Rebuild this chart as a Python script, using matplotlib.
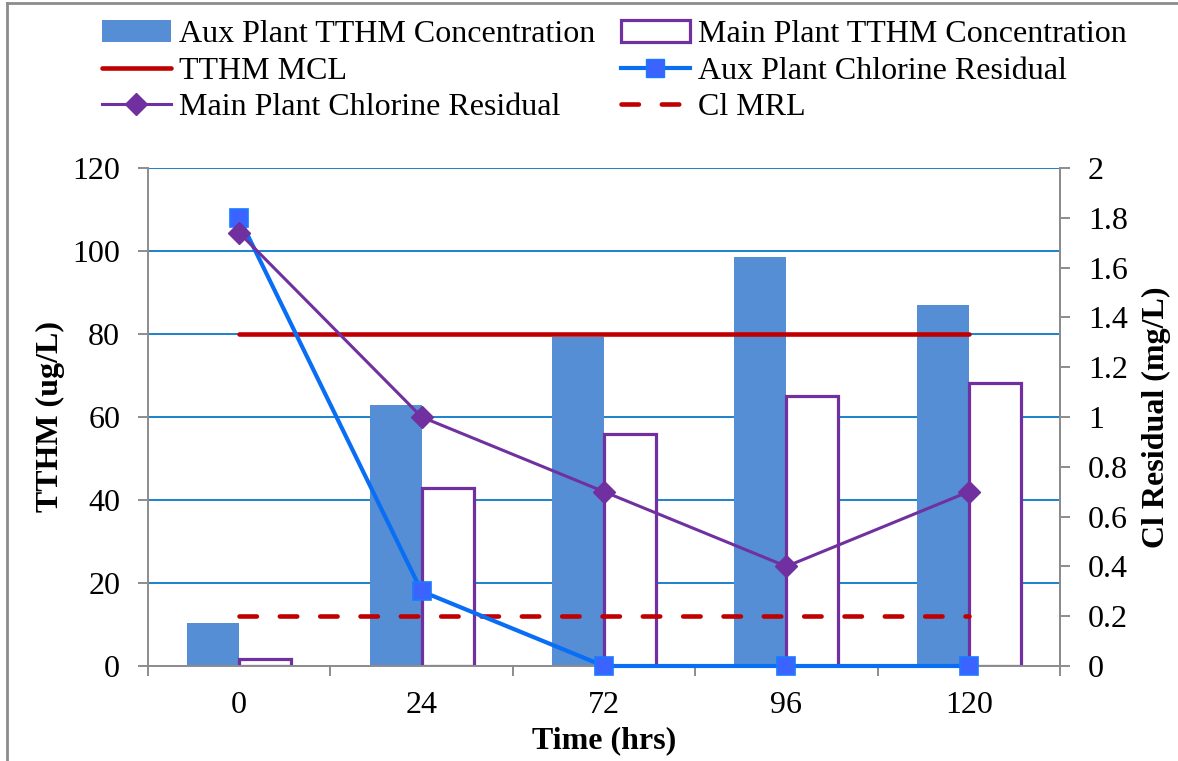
import matplotlib
matplotlib.use("Agg")
import matplotlib.pyplot as plt
import numpy as np
from matplotlib.lines import Line2D
from matplotlib.patches import Patch

plt.rcParams['font.family'] = ['Liberation Serif', 'DejaVu Serif']

categories = ["0", "24", "72", "96", "120"]
aux_tthm = [10.3, 63, 79.3, 98.6, 87]
main_tthm = [1.7, 43, 56, 65, 68.2]
aux_cl = [1.80, 0.30, 0.0, 0.0, 0.0]
main_cl = [1.74, 1.00, 0.70, 0.40, 0.70]
tthm_mcl = 80
cl_mrl = 0.2

BLUE_BAR = '#558ED5'
PURPLE = '#7030A0'
RED = '#C00000'
LINE_BLUE = '#0A6EF5'
GRID = '#0A78C8'
AXGREY = '#8C8C8C'
FS = 23

fig = plt.figure(figsize=(11.78, 7.61), dpi=100)
ax = fig.add_axes([148/1178, 1 - 666/761, (1060-148)/1178, (666-168)/761])
ax2 = ax.twinx()

x = np.arange(len(categories))
w = 0.285
ax.bar(x - w/2, aux_tthm, w, color=BLUE_BAR, zorder=2)
ax.bar(x + w/2, main_tthm, w, facecolor='white', edgecolor=PURPLE, linewidth=2.3, zorder=2)
ax.plot([x[0], x[-1]], [tthm_mcl, tthm_mcl], color=RED, lw=3.3, solid_capstyle='round', zorder=3)

ax.set_xlim(-0.5, len(categories) - 0.5)
ax.set_ylim(0, 120)
ax.set_yticks(np.arange(0, 121, 20))
ax.set_xticks(x)
ax.set_xticklabels(categories)
ax.set_xticks(np.arange(-0.5, len(categories), 1.0), minor=True)
ax.set_axisbelow(True)
ax.yaxis.grid(True, color=GRID, lw=1.3)
ax.spines['top'].set_visible(False)
for s in ['left', 'bottom', 'right']:
    ax.spines[s].set_color(AXGREY)
    ax.spines[s].set_linewidth(1.4)
ax.tick_params(axis='x', which='major', length=0, labelsize=FS, pad=18)
ax.tick_params(axis='x', which='minor', length=7, width=1.4, color=AXGREY, direction='out')
ax.tick_params(axis='y', length=7, width=1.4, color=AXGREY, direction='out', labelsize=FS, pad=13)

ax2.plot(x, aux_cl, color=LINE_BLUE, lw=3.0, marker='s', ms=13, mfc='#3A63FF', mec='#1A7AFF',
         mew=1.2, zorder=4, clip_on=False)
ax2.plot(x, main_cl, color=PURPLE, lw=2.2, marker='D', ms=11, mfc=PURPLE, mec=PURPLE, zorder=5,
         clip_on=False)
ax2.plot([x[0], x[-1]], [cl_mrl, cl_mrl], color=RED, lw=3.3, dashes=(3.8, 5.0),
         dash_capstyle='round', zorder=3)
ax2.set_ylim(0, 2)
ax2.set_yticks(np.arange(0, 2.01, 0.2))
ax2.set_yticklabels(['0', '0.2', '0.4', '0.6', '0.8', '1', '1.2', '1.4', '1.6', '1.8', '2'])
ax2.tick_params(axis='y', length=7, width=1.4, color=AXGREY, direction='out', labelsize=FS, pad=13)
for s in ['top', 'left', 'bottom']:
    ax2.spines[s].set_visible(False)
ax2.spines['right'].set_color(AXGREY)
ax2.spines['right'].set_linewidth(1.4)

ax.set_ylabel('TTHM (ug/L)', fontsize=FS, fontweight='bold', labelpad=5.5)
ax2.set_ylabel('Cl Residual (mg/L)', fontsize=FS, fontweight='bold', labelpad=10.5)
ax.set_xlabel('Time (hrs)', fontsize=FS, fontweight='bold', labelpad=4.5)

# legend
h_aux = Patch(facecolor=BLUE_BAR, edgecolor='none')
h_main = Patch(facecolor='white', edgecolor=PURPLE, linewidth=2.3)
h_mcl = Line2D([], [], color=RED, lw=3.3, solid_capstyle='round')
h_auxcl = Line2D([], [], color=LINE_BLUE, lw=3.0, marker='s', ms=13, mfc='#3A63FF', mec='#1A7AFF')
h_maincl = Line2D([], [], color=PURPLE, lw=2.2, marker='D', ms=11, mfc=PURPLE, mec=PURPLE)
h_mrl = Line2D([], [], color=RED, lw=3.3, dashes=(3.8, 5.0), dash_capstyle='round')
handles = [h_aux, h_mcl, h_maincl, h_main, h_auxcl, h_mrl]
labels = ['Aux Plant TTHM Concentration', 'TTHM MCL', 'Main Plant Chlorine Residual',
          'Main Plant TTHM Concentration', 'Aux Plant Chlorine Residual', 'Cl MRL']
fig.legend(handles, labels, ncol=2, loc='upper left', bbox_to_anchor=(102/1178, 1 - 20/761),
           frameon=False, fontsize=FS, handlelength=2.15, handletextpad=0.25,
           columnspacing=0.82, labelspacing=0.22, borderpad=0, borderaxespad=0)

# figure border (left and top)
fig.add_artist(Line2D([7/1178, 7/1178], [0, 1 - 3/761], transform=fig.transFigure, color=AXGREY, lw=2))
fig.add_artist(Line2D([7/1178, 1], [1 - 3/761, 1 - 3/761], transform=fig.transFigure, color=AXGREY, lw=2))

fig.savefig('out.png', dpi=100)
